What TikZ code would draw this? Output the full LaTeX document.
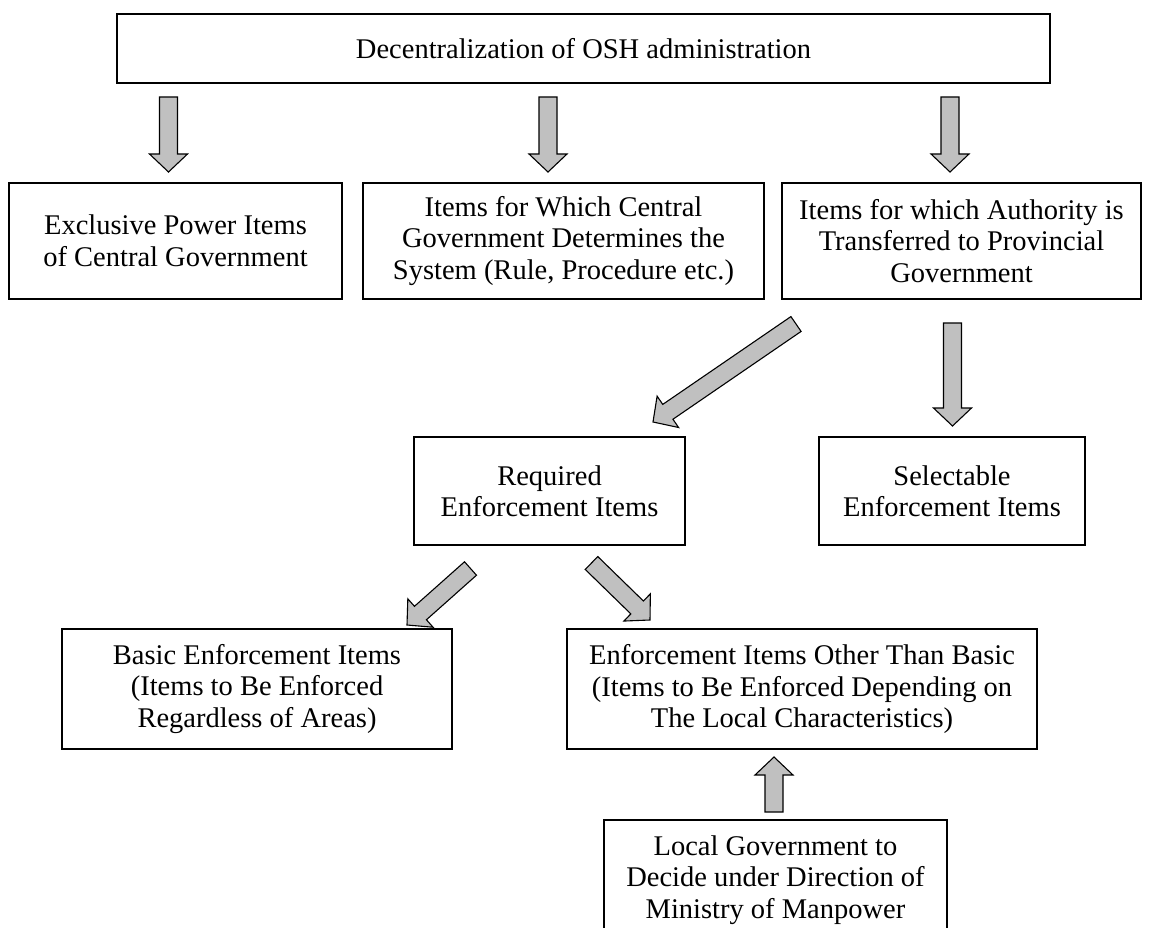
\documentclass[tikz,border=0pt]{standalone}
\usepackage{fontspec}
\setmainfont{Liberation Serif}
\usetikzlibrary{calc}
\definecolor{arrowgray}{RGB}{192,192,192}
\tikzset{
  box/.style={draw=black, line width=1.1pt, rectangle, inner sep=0pt,
    align=center, font=\fontsize{28.5}{31.5}\selectfont},
  blockarrow/.style={draw=black, fill=arrowgray, line width=1.1pt, line join=miter},
}
% Block arrow from tail #1 to tip #2: shaft 18pt wide, head 38pt wide, 18pt long
\newcommand\fatarrow[2]{%
  \coordinate (fa-h) at ($(#2)!18pt!(#1)$);
  \draw[blockarrow] ($(#1)!9pt!90:(#2)$) -- ($(fa-h)!9pt!-90:(#1)$)
    -- ($(fa-h)!19pt!-90:(#1)$) -- (#2) -- ($(fa-h)!19pt!90:(#1)$)
    -- ($(fa-h)!9pt!90:(#1)$) -- ($(#1)!9pt!-90:(#2)$) -- cycle;
}
\begin{document}
\begin{tikzpicture}[x=1pt,y=-1pt]
\useasboundingbox (0,0) rectangle (1151,928);
\clip (0,0) rectangle (1151,928);
\fill[white] (0,0) rectangle (1151,928);

% boxes
\node[box, minimum width=933pt, minimum height=69pt] (top) at (583.5,48.5)
  {Decentralization of OSH administration};
\node[box, minimum width=333pt, minimum height=116pt] (excl) at (175.5,241)
  {Exclusive Power Items\\of Central Government};
\node[box, minimum width=401pt, minimum height=116pt] (central) at (563.5,241)
  {Items for Which Central\\Government Determines the\\System (Rule, Procedure etc.)};
\node[box, minimum width=359pt, minimum height=116pt] (prov) at (961.5,241)
  {Items for which Authority is\\Transferred to Provincial\\Government};
\node[box, minimum width=271pt, minimum height=108pt] (req) at (549.5,491)
  {Required\\Enforcement Items};
\node[box, minimum width=266pt, minimum height=108pt] (sel) at (952,491)
  {Selectable\\Enforcement Items};
\node[box, minimum width=390pt, minimum height=120pt] (basic) at (257,689)
  {Basic Enforcement Items\\(Items to Be Enforced\\Regardless of Areas)};
\node[box, minimum width=470pt, minimum height=120pt] (other) at (802,689)
  {Enforcement Items Other Than Basic\\(Items to Be Enforced Depending on\\The Local Characteristics)};
\node[box, minimum width=343pt, minimum height=120pt] (local) at (775.5,880)
  {Local Government to\\Decide under Direction of\\Ministry of Manpower};

% arrow ends
\coordinate (t1) at (168.5,97);  \coordinate (h1) at (168.5,172);
\coordinate (t2) at (548,97);    \coordinate (h2) at (548,172);
\coordinate (t3) at (950,97);    \coordinate (h3) at (950,172);
\coordinate (t4) at (796,324);   \coordinate (h4) at (653,422);
\coordinate (t5) at (952.5,323); \coordinate (h5) at (952.5,426);
\coordinate (t6) at (470.5,568.5); \coordinate (h6) at (407,625);
\coordinate (t7) at (591.5,563); \coordinate (h7) at (650,620);
\coordinate (t8) at (774,812);   \coordinate (h8) at (774,757);

\fatarrow{t1}{h1}
\fatarrow{t2}{h2}
\fatarrow{t3}{h3}
\fatarrow{t4}{h4}
\fatarrow{t5}{h5}
\fatarrow{t6}{h6}
\fatarrow{t7}{h7}
\fatarrow{t8}{h8}
\end{tikzpicture}
\end{document}
